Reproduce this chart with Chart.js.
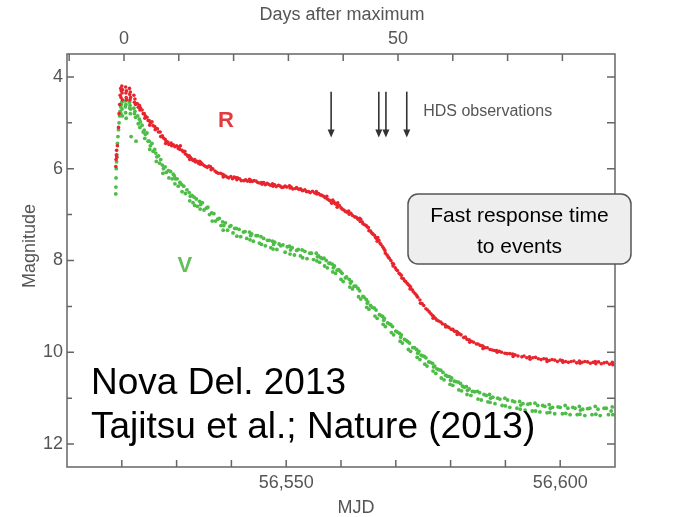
<!DOCTYPE html>
<html>
<head>
<meta charset="utf-8">
<script src="https://cdn.jsdelivr.net/npm/chart.js@4.4.0/dist/chart.umd.min.js"></script>
<style>
  html, body { margin: 0; padding: 0; background: #fff; }
  #wrap { width: 682px; height: 517px; }
</style>
</head>
<body>
<div id="wrap"><canvas id="novaChart" width="682" height="517"></canvas></div>
<script>
// R band light curve [MJD, mag]
const rBand = [
  [56518.9,5.95],[56518.95,5.8],[56519.0,5.7],[56519.05,5.6],[56519.1,5.75],[56519.2,5.5],[56519.4,5.1],[56519.5,4.8],
  [56519.6,4.6],[56519.7,4.4],[56519.8,4.25],[56519.85,4.45],[56519.9,4.3],[56520.0,4.2],[56520.05,4.35],[56520.1,4.5],
  [56520.15,4.28],[56520.7,4.22],[56520.75,4.35],[56520.8,4.45],[56520.85,4.3],[56520.9,4.5],[56521.4,4.25],[56521.45,4.38],
  [56521.5,4.5],[56521.55,4.33],[56521.6,4.45],[56522.2,4.4],[56522.3,4.55],[56522.4,4.48],[56522.5,4.6],[56523.2,4.62],
  [56523.3,4.72],[56523.4,4.67],[56524.1,4.8],[56524.2,4.9],[56524.3,4.85],[56525.0,4.95],[56525.1,5.05],[56525.2,5.0],
  [56526.0,5.08],[56526.1,5.15],[56526.2,5.12],[56527.0,5.2],[56527.1,5.3],[56527.9,5.36],[56528.0,5.45],[56528.1,5.4],
  [56529.0,5.44],[56529.1,5.5],[56530.5,5.52],[56530.6,5.58],[56530.7,5.5],[56531.5,5.62],[56531.6,5.68],[56532.3,5.72],
  [56532.4,5.8],[56532.5,5.75],[56533.3,5.8],[56533.4,5.85],[56534.2,5.84],[56534.3,5.9],[56534.4,5.86],[56535.3,5.95],
  [56536.2,5.96],[56536.3,6.02],[56537.3,6.08],[56538.4,6.12],[56538.5,6.18],[56538.6,6.14],[56539.5,6.2],[56540.5,6.18],
  [56541.0,6.24],[56541.1,6.2],[56542.3,6.26],[56543.3,6.23],[56543.4,6.28],[56543.5,6.25],[56544.5,6.27],[56545.5,6.3],
  [56545.6,6.34],[56546.5,6.32],[56547.5,6.33],[56547.6,6.38],[56548.6,6.36],[56549.5,6.4],[56550.6,6.37],[56550.7,6.42],
  [56551.7,6.43],[56552.6,6.44],[56553.0,6.48],[56554.1,6.5],[56555.5,6.5],[56555.6,6.55],[56556.5,6.58],[56557.4,6.6],
  [56557.5,6.66],[56558.0,6.7],[56558.3,6.75],[56558.5,6.68],[56559.2,6.78],[56559.3,6.84],[56559.4,6.74],[56560.5,6.9],
  [56561.4,6.92],[56561.5,6.99],[56562.5,7.05],[56563.4,7.08],[56563.5,7.15],[56563.6,7.1],[56564.3,7.22],[56565.0,7.28],
  [56565.1,7.35],[56565.8,7.42],[56566.5,7.52],[56566.6,7.58],[56566.7,7.5],[56567.3,7.65],[56568.0,7.78],[56568.1,7.84],
  [56568.8,7.95],[56569.4,8.06],[56569.5,8.12],[56569.6,8.08],[56570.3,8.22],[56571.0,8.32],[56571.1,8.38],[56571.8,8.46],
  [56572.5,8.55],[56572.6,8.62],[56572.7,8.58],[56573.5,8.72],[56574.4,8.86],[56574.5,8.93],[56575.5,9.05],[56576.7,9.2],
  [56576.8,9.26],[56576.9,9.22],[56577.8,9.32],[56579.0,9.4],[56579.1,9.45],[56580.1,9.5],[56581.1,9.55],[56581.2,9.61],
  [56581.3,9.57],[56582.4,9.68],[56583.4,9.73],[56583.5,9.78],[56584.7,9.82],[56585.8,9.86],[56585.9,9.92],[56586.0,9.88],
  [56587.2,9.94],[56588.4,9.96],[56588.5,10.0],[56589.9,10.02],[56591.3,10.04],[56591.4,10.09],[56591.5,10.05],[56593.0,10.1],
  [56594.4,10.1],[56594.5,10.15],[56596.0,10.14],[56597.5,10.15],[56597.6,10.2],[56599.0,10.17],[56600.4,10.18],[56600.5,10.22],
  [56602.0,10.2],[56603.5,10.19],[56603.6,10.24],[56605.0,10.21],[56606.4,10.2],[56606.5,10.25],[56608.0,10.23],[56609.5,10.22],
  [56609.6,10.27],
  [56522.8,4.58],[56523.0,4.66],[56523.7,4.72],[56523.9,4.8],[56524.6,4.88],[56524.8,4.95],[56525.5,4.98],[56525.7,5.06],
  [56526.5,5.13],[56526.7,5.2],[56527.4,5.28],[56527.6,5.33],[56528.4,5.42],[56528.6,5.47],[56529.4,5.48],[56529.7,5.52],
  [56530.0,5.5],[56530.3,5.56],[56531.0,5.6],[56531.2,5.63],[56531.9,5.7],[56532.1,5.74],[56532.8,5.79],[56533.0,5.82],
  [56533.7,5.84],[56534.0,5.88],[56534.7,5.9],[56535.0,5.93],[56535.6,5.97],[56535.9,5.94],[56536.6,6.0],[56537.0,6.05],
  [56537.6,6.1],[56538.0,6.1],[56538.9,6.16],[56539.2,6.18],[56539.9,6.17],[56540.2,6.22],[56540.8,6.2],[56541.5,6.22],
  [56541.8,6.26],[56542.6,6.24],[56542.9,6.27],[56543.8,6.28],[56544.1,6.26],[56544.8,6.3],[56545.1,6.31],[56545.9,6.3],
  [56546.2,6.35],[56546.8,6.34],[56547.1,6.36],[56547.9,6.35],[56548.2,6.39],[56548.9,6.38],[56549.2,6.41],[56549.8,6.38],
  [56550.1,6.4],[56550.9,6.4],[56551.2,6.44],[56551.9,6.41],[56552.3,6.45],[56552.9,6.47],[56553.4,6.46],[56553.7,6.5],
  [56554.4,6.52],[56554.8,6.49],[56555.2,6.53],[56555.9,6.54],[56556.2,6.57],[56556.8,6.6],[56557.1,6.63],[56557.8,6.68],
  [56558.7,6.72],[56558.9,6.76],[56559.7,6.8],[56560.0,6.85],[56560.2,6.88],[56560.8,6.93],[56561.1,6.95],[56561.8,6.97],
  [56562.1,7.02],[56562.8,7.06],[56563.1,7.1],[56563.9,7.16],[56564.0,7.2],[56564.6,7.24],[56564.8,7.27],[56565.4,7.36],
  [56565.6,7.4],[56566.1,7.45],[56566.3,7.5],[56566.9,7.56],[56567.1,7.62],[56567.6,7.7],[56567.8,7.74],[56568.4,7.88],
  [56568.6,7.92],[56569.1,8.0],[56569.9,8.16],[56570.1,8.2],[56570.6,8.28],[56570.8,8.3],[56571.4,8.4],[56571.6,8.44],
  [56572.1,8.5],[56572.3,8.53],[56573.0,8.64],[56573.2,8.68],[56573.8,8.76],[56574.0,8.8],[56574.8,8.94],[56575.1,8.98],
  [56575.8,9.08],[56576.1,9.12],[56576.4,9.16],[56577.2,9.26],[56577.5,9.3],[56578.2,9.34],[56578.5,9.38],[56579.4,9.44],
  [56579.7,9.46],[56580.4,9.5],[56580.7,9.54],[56581.6,9.6],[56581.9,9.62],[56582.7,9.67],[56583.0,9.72],[56583.8,9.76],
  [56584.2,9.78],[56585.0,9.82],[56585.4,9.85],[56586.3,9.9],[56586.7,9.9],[56587.6,9.95],[56588.0,9.96],[56588.9,9.98],
  [56589.3,10.0],[56590.3,10.03],[56590.8,10.03],[56591.8,10.06],[56592.3,10.08],[56593.4,10.08],[56593.9,10.12],[56595.0,10.12],
  [56595.5,10.11],[56596.5,10.16],[56597.0,10.14],[56598.0,10.18],[56598.5,10.16],[56599.5,10.2],[56600.0,10.17],[56601.0,10.2],
  [56601.5,10.22],[56602.5,10.19],[56603.0,10.23],[56604.0,10.22],[56604.5,10.2],[56605.5,10.24],[56606.0,10.22],[56607.0,10.21],
  [56607.5,10.25],[56608.5,10.22],[56609.0,10.26]
];

// V band light curve [MJD, mag]
const vBand = [
  [56518.9,6.55],[56518.92,6.4],[56518.95,6.2],[56519.0,6.0],[56519.05,5.85],[56519.1,5.7],[56519.2,5.45],[56519.3,5.3],
  [56519.4,5.15],[56519.5,5.0],[56519.6,4.85],[56519.7,4.75],[56519.8,4.65],[56519.85,4.8],[56519.9,4.6],[56520.0,4.55],
  [56520.05,4.7],[56520.1,4.85],[56520.6,4.52],[56520.65,4.65],[56520.7,4.78],[56520.75,4.6],[56520.8,4.9],[56521.4,4.55],
  [56521.45,4.68],[56521.5,4.62],[56521.55,4.8],[56521.6,4.7],[56521.7,5.3],[56522.2,4.68],[56522.3,4.8],[56522.4,4.75],
  [56522.5,4.88],[56522.6,5.4],[56523.2,4.92],[56523.3,5.1],[56523.4,4.98],[56524.1,5.16],[56524.2,5.34],[56524.3,5.25],
  [56525.0,5.4],[56525.1,5.58],[56525.2,5.5],[56526.2,5.66],[56526.3,5.84],[56526.4,5.74],[56527.4,5.92],[56527.5,6.1],
  [56527.6,6.0],[56528.5,6.04],[56528.6,6.2],[56529.6,6.16],[56529.7,6.33],[56529.8,6.22],[56530.9,6.34],[56531.0,6.5],
  [56532.3,6.52],[56532.4,6.7],[56532.5,6.6],[56533.2,6.62],[56533.3,6.8],[56534.2,6.71],[56534.3,6.88],[56534.4,6.78],
  [56535.4,6.86],[56536.4,6.96],[56536.5,7.14],[56537.5,7.1],[56538.4,7.16],[56538.5,7.34],[56538.6,7.24],[56539.7,7.26],
  [56540.9,7.3],[56541.0,7.47],[56542.2,7.38],[56543.3,7.38],[56543.4,7.55],[56543.5,7.46],[56544.5,7.46],[56545.4,7.48],
  [56545.5,7.65],[56546.6,7.56],[56547.5,7.58],[56547.6,7.75],[56547.7,7.65],[56549.0,7.68],[56550.6,7.69],[56550.7,7.86],
  [56550.8,7.77],[56551.9,7.78],[56552.9,7.77],[56553.0,7.94],[56554.3,7.84],[56555.5,7.84],[56555.6,8.01],[56555.7,7.92],
  [56556.3,7.94],[56556.9,7.95],[56557.0,8.12],[56557.8,8.06],[56558.4,8.08],[56558.5,8.25],[56558.6,8.16],[56559.3,8.21],
  [56559.9,8.24],[56560.0,8.41],[56560.8,8.38],[56561.5,8.41],[56561.6,8.58],[56561.7,8.49],[56562.4,8.56],[56563.1,8.61],
  [56563.2,8.79],[56564.0,8.78],[56564.6,8.85],[56564.7,9.02],[56564.8,8.93],[56565.4,8.98],[56566.1,9.04],[56566.2,9.21],
  [56567.0,9.18],[56567.6,9.22],[56567.7,9.39],[56567.8,9.3],[56568.5,9.36],[56569.1,9.4],[56569.2,9.57],[56570.0,9.54],
  [56570.7,9.59],[56570.8,9.76],[56570.9,9.67],[56571.6,9.72],[56572.2,9.77],[56572.3,9.94],[56573.1,9.9],[56573.8,9.94],
  [56573.9,10.11],[56574.0,10.02],[56574.6,10.06],[56575.2,10.09],[56575.3,10.26],[56576.0,10.21],[56576.7,10.24],[56576.8,10.41],
  [56576.9,10.32],[56577.5,10.36],[56578.2,10.39],[56578.3,10.56],[56579.1,10.5],[56579.8,10.53],[56579.9,10.7],[56580.0,10.61],
  [56580.7,10.63],[56581.4,10.65],[56581.5,10.82],[56582.2,10.74],[56582.9,10.75],[56583.0,10.92],[56583.1,10.83],[56584.0,10.85],
  [56584.9,10.85],[56585.0,11.02],[56586.1,10.92],[56587.1,10.92],[56587.2,11.09],[56587.3,11.0],[56588.6,11.0],[56589.9,11.0],
  [56590.0,11.17],[56591.3,11.06],[56592.6,11.07],[56592.7,11.24],[56592.8,11.15],[56594.1,11.13],[56595.4,11.11],[56595.5,11.28],
  [56596.8,11.16],[56598.0,11.14],[56598.1,11.31],[56598.2,11.22],[56599.6,11.19],[56600.9,11.16],[56601.0,11.33],[56602.3,11.2],
  [56603.5,11.18],[56603.6,11.35],[56603.7,11.26],[56605.0,11.23],[56606.4,11.18],[56606.5,11.35],[56608.0,11.22],[56609.5,11.19],
  [56609.6,11.36],
  [56522.9,4.85],[56523.0,5.02],[56523.7,5.05],[56523.9,5.2],[56524.6,5.22],[56524.8,5.4],[56525.5,5.45],[56525.7,5.62],
  [56526.0,5.58],[56526.7,5.72],[56526.9,5.88],[56527.1,5.8],[56527.9,5.96],[56528.1,6.08],[56528.9,6.06],[56529.2,6.22],
  [56529.4,6.12],[56530.1,6.22],[56530.3,6.38],[56530.6,6.3],[56531.3,6.38],[56531.6,6.54],[56531.9,6.46],[56532.8,6.58],
  [56533.0,6.74],[56533.6,6.66],[56533.8,6.82],[56534.7,6.74],[56535.0,6.9],[56535.7,6.84],[56536.0,7.0],[56536.8,6.98],
  [56537.1,7.14],[56537.8,7.08],[56538.1,7.24],[56538.9,7.18],[56539.3,7.34],[56539.9,7.24],[56540.3,7.4],[56540.6,7.3],
  [56541.4,7.32],[56541.7,7.48],[56542.5,7.37],[56542.8,7.52],[56543.7,7.42],[56544.0,7.58],[56544.8,7.46],[56545.1,7.62],
  [56545.9,7.52],[56546.2,7.68],[56546.9,7.56],[56547.2,7.72],[56547.9,7.6],[56548.3,7.76],[56548.7,7.64],[56549.4,7.66],
  [56549.8,7.82],[56550.2,7.7],[56551.1,7.72],[56551.5,7.88],[56552.2,7.76],[56552.6,7.9],[56553.4,7.8],[56553.8,7.96],
  [56554.6,7.84],[56555.0,7.98],[56555.9,7.9],[56556.1,8.04],[56556.6,7.96],[56557.3,8.0],[56557.5,8.16],[56558.0,8.06],
  [56558.8,8.12],[56559.0,8.28],[56559.6,8.2],[56560.2,8.28],[56560.4,8.46],[56561.0,8.36],[56561.9,8.46],[56562.1,8.62],
  [56562.7,8.56],[56563.4,8.66],[56563.6,8.84],[56564.2,8.8],[56564.9,8.9],[56565.1,9.06],[56565.7,9.02],[56566.4,9.08],
  [56566.6,9.26],[56567.3,9.2],[56567.9,9.26],[56568.1,9.44],[56568.8,9.38],[56569.4,9.44],[56569.6,9.62],[56570.3,9.56],
  [56571.0,9.62],[56571.2,9.8],[56571.9,9.74],[56572.5,9.8],[56572.7,9.98],[56573.4,9.9],[56574.2,9.98],[56574.4,10.16],
  [56574.9,10.08],[56575.5,10.12],[56575.7,10.3],[56576.3,10.22],[56577.1,10.3],[56577.3,10.46],[56577.8,10.38],[56578.6,10.44],
  [56578.8,10.6],[56579.4,10.52],[56580.2,10.56],[56580.4,10.72],[56581.0,10.64],[56581.8,10.68],[56582.0,10.84],[56582.5,10.76],
  [56583.4,10.8],[56583.7,10.94],[56584.4,10.86],[56585.3,10.88],[56585.6,11.04],[56586.5,10.94],[56586.8,11.08],[56587.7,10.98],
  [56588.1,11.12],[56589.0,11.02],[56589.4,11.16],[56590.4,11.04],[56590.8,11.2],[56591.7,11.08],[56592.1,11.22],[56593.2,11.12],
  [56593.6,11.26],[56594.5,11.12],[56594.9,11.28],[56595.9,11.16],[56596.3,11.3],[56597.2,11.18],[56597.6,11.32],[56598.6,11.2],
  [56599.0,11.34],[56600.0,11.2],[56600.4,11.34],[56601.4,11.22],[56601.8,11.36],[56602.7,11.22],[56603.1,11.36],[56604.1,11.24],
  [56604.5,11.38],[56605.4,11.22],[56605.8,11.36],[56606.9,11.24],[56607.3,11.38],[56608.4,11.22],[56608.8,11.36],[56609.3,11.28]
];

const mjdLabels = [56550, 56600];
const mjdTicks = [56520, 56530, 56540, 56550, 56560, 56570, 56580, 56590, 56600];
const dayLabels = [0, 50];
const dayTicks = [-10, 0, 10, 20, 30, 40, 50, 60, 70, 80];
const magLabels = [4, 6, 8, 10, 12];
const magTicks = [4, 5, 6, 7, 8, 9, 10, 11, 12];
const hdsMjd = [56558.2, 56566.9, 56568.2, 56572.0];

const axisGray = '#555';
const axisFont = { family: 'Liberation Sans, Arial, sans-serif', size: 18 };

function fmtMjd(v) {
    return v.toLocaleString('en-US');
}

const decorPlugin = {
    id: 'decor',
    afterDraw(chart) {
        const ctx = chart.ctx;
        const a = chart.chartArea;
        const x = chart.scales.x;
        const xt = chart.scales.xTop;
        const y = chart.scales.y;

        ctx.save();
        // frame
        ctx.strokeStyle = '#666';
        ctx.lineWidth = 1.5;
        ctx.strokeRect(a.left, a.top, a.right - a.left, a.bottom - a.top);

        // inward ticks
        ctx.beginPath();
        mjdTicks.forEach(v => {
            const px = x.getPixelForValue(v);
            ctx.moveTo(px, a.bottom); ctx.lineTo(px, a.bottom - 7);
        });
        dayTicks.forEach(v => {
            const px = xt.getPixelForValue(v);
            ctx.moveTo(px, a.top); ctx.lineTo(px, a.top + 7);
        });
        magTicks.forEach(v => {
            const py = y.getPixelForValue(v);
            const len = magLabels.includes(v) ? 7 : 5;
            ctx.moveTo(a.left, py); ctx.lineTo(a.left + len, py);
            ctx.moveTo(a.right, py); ctx.lineTo(a.right - 8, py);
        });
        ctx.stroke();

        // axis titles
        ctx.fillStyle = axisGray;
        ctx.font = '18px Liberation Sans, Arial, sans-serif';
        ctx.textAlign = 'center';
        ctx.textBaseline = 'middle';
        ctx.fillText('Days after maximum', 342, 15);
        ctx.fillText('MJD', 356, 508);
        ctx.save();
        ctx.translate(30, 246);
        ctx.rotate(-Math.PI / 2);
        ctx.fillText('Magnitude', 0, 0);
        ctx.restore();

        // HDS arrows
        ctx.strokeStyle = '#333';
        ctx.fillStyle = '#333';
        ctx.lineWidth = 1.6;
        hdsMjd.forEach(v => {
            const px = x.getPixelForValue(v);
            const y0 = y.getPixelForValue(4.32);
            const y1 = y.getPixelForValue(5.32);
            ctx.beginPath();
            ctx.moveTo(px, y0); ctx.lineTo(px, y1 - 6);
            ctx.stroke();
            ctx.beginPath();
            ctx.moveTo(px - 3.5, y1 - 8); ctx.lineTo(px + 3.5, y1 - 8); ctx.lineTo(px, y1);
            ctx.closePath();
            ctx.fill();
        });
        ctx.fillStyle = axisGray;
        ctx.font = '16px Liberation Sans, Arial, sans-serif';
        ctx.textAlign = 'left';
        ctx.fillText('HDS observations', x.getPixelForValue(56575.0), y.getPixelForValue(4.75));

        // band labels
        ctx.font = 'bold 22px Liberation Sans, Arial, sans-serif';
        ctx.textAlign = 'center';
        ctx.fillStyle = '#e23b3f';
        ctx.fillText('R', x.getPixelForValue(56539.0), y.getPixelForValue(4.95));
        ctx.fillStyle = '#62c05a';
        ctx.fillText('V', x.getPixelForValue(56531.5), y.getPixelForValue(8.12));

        // citation
        ctx.fillStyle = '#000';
        ctx.font = '37px Liberation Sans, Arial, sans-serif';
        ctx.textAlign = 'left';
        ctx.textBaseline = 'alphabetic';
        ctx.fillText('Nova Del. 2013', 91, 394);
        ctx.fillText('Tajitsu et al.; Nature (2013)', 91, 438);

        // callout box
        const bx = 408, by = 194, bw = 223, bh = 70, r = 10;
        ctx.beginPath();
        ctx.moveTo(bx + r, by);
        ctx.arcTo(bx + bw, by, bx + bw, by + bh, r);
        ctx.arcTo(bx + bw, by + bh, bx, by + bh, r);
        ctx.arcTo(bx, by + bh, bx, by, r);
        ctx.arcTo(bx, by, bx + bw, by, r);
        ctx.closePath();
        ctx.fillStyle = '#eeeeee';
        ctx.fill();
        ctx.strokeStyle = '#555';
        ctx.lineWidth = 1.5;
        ctx.stroke();
        ctx.fillStyle = '#000';
        ctx.font = '21px Liberation Sans, Arial, sans-serif';
        ctx.textAlign = 'center';
        ctx.fillText('Fast response time', bx + bw / 2, 222);
        ctx.fillText('to events', bx + bw / 2, 253);
        ctx.restore();
    }
};

const ctx = document.getElementById('novaChart').getContext('2d');

new Chart(ctx, {
    type: 'scatter',
    data: {
        datasets: [
            {
                label: 'R',
                data: rBand.map(p => ({ x: p[0], y: p[1] })),
                backgroundColor: '#e8242c',
                pointRadius: 1.8,
                borderWidth: 0
            },
            {
                label: 'V',
                data: vBand.map(p => ({ x: p[0], y: p[1] })),
                backgroundColor: '#4cbd46',
                pointRadius: 1.9,
                borderWidth: 0
            }
        ]
    },
    options: {
        responsive: false,
        animation: false,
        layout: { padding: { left: 0, right: 67, top: 0, bottom: 0 } },
        plugins: {
            legend: { display: false },
            tooltip: { enabled: false }
        },
        scales: {
            x: {
                type: 'linear',
                position: 'bottom',
                min: 56510,
                max: 56610,
                afterBuildTicks: s => { s.ticks = mjdLabels.map(v => ({ value: v })); },
                afterFit: s => { s.height = 50; },
                ticks: { color: axisGray, font: axisFont, padding: 5, maxRotation: 0, callback: v => fmtMjd(v) },
                grid: { display: false, drawTicks: false },
                border: { display: false }
            },
            xTop: {
                type: 'linear',
                position: 'top',
                min: -10.4,
                max: 89.6,
                afterBuildTicks: s => { s.ticks = dayLabels.map(v => ({ value: v })); },
                afterFit: s => { s.height = 54; },
                ticks: { color: axisGray, font: axisFont, padding: 4, maxRotation: 0 },
                grid: { display: false, drawTicks: false },
                border: { display: false }
            },
            y: {
                type: 'linear',
                reverse: true,
                min: 3.5,
                max: 12.5,
                afterBuildTicks: s => { s.ticks = magLabels.map(v => ({ value: v })); },
                afterFit: s => { s.width = 67; },
                ticks: { color: axisGray, font: axisFont, padding: 4 },
                grid: { display: false, drawTicks: false },
                border: { display: false }
            }
        }
    },
    plugins: [decorPlugin]
});
</script>
</body>
</html>
